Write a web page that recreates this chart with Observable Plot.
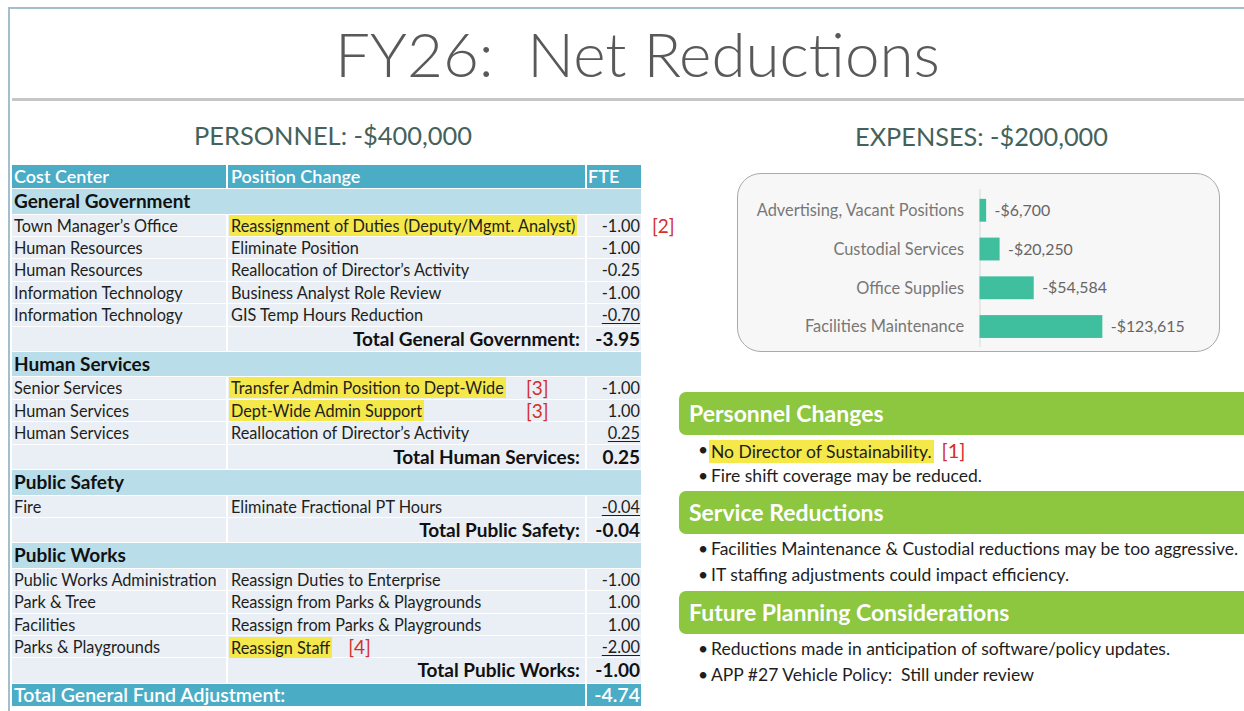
<!DOCTYPE html>
<html>
<head>
<meta charset="utf-8">
<script src="https://cdn.jsdelivr.net/npm/d3@7"></script>
<script src="https://cdn.jsdelivr.net/npm/@observablehq/plot@0.6"></script>
<style>
html,body{margin:0;padding:0;background:#fff;}
body{width:1244px;height:711px;overflow:hidden;position:relative;font-family:Lato,"Open Sans",sans-serif;color:#1e1e1e;}
.a{position:absolute;white-space:pre;}
</style>
</head>
<body>
<script>
// ---------------- Data ----------------
const slideTitle = "FY26:  Net Reductions";
const personnelHeading = "PERSONNEL: -$400,000";
const expensesHeading = "EXPENSES: -$200,000";
const tableColumns = ["Cost Center", "Position Change", "FTE"];

const groupNames = ["General Government", "Human Services", "Public Safety", "Public Works"];
const groupTotals = [-3.95, 0.25, -0.04, -1.00];

const rowGroup = [0, 0, 0, 0, 0, 1, 1, 1, 2, 3, 3, 3, 3];
const rowCostCenter = ["Town Manager\u2019s Office", "Human Resources", "Human Resources", "Information Technology", "Information Technology",
  "Senior Services", "Human Services", "Human Services", "Fire",
  "Public Works Administration", "Park & Tree", "Facilities", "Parks & Playgrounds"];
const rowPositionChange = ["Reassignment of Duties (Deputy/Mgmt. Analyst)", "Eliminate Position", "Reallocation of Director\u2019s Activity", "Business Analyst Role Review", "GIS Temp Hours Reduction",
  "Transfer Admin Position to Dept-Wide", "Dept-Wide Admin Support", "Reallocation of Director\u2019s Activity", "Eliminate Fractional PT Hours",
  "Reassign Duties to Enterprise", "Reassign from Parks & Playgrounds", "Reassign from Parks & Playgrounds", "Reassign Staff"];
const rowFTE = [-1.00, -1.00, -0.25, -1.00, -0.70, -1.00, 1.00, 0.25, -0.04, -1.00, 1.00, 1.00, -2.00];
const rowHighlighted = [true, false, false, false, false, true, true, false, false, false, false, false, true];
const rowFootnote = ["[2]", "", "", "", "", "[3]", "[3]", "", "", "", "", "", "[4]"];
const grandTotalLabel = "Total General Fund Adjustment:";
const grandTotal = -4.74;

const expenseCategories = ["Advertising, Vacant Positions", "Custodial Services", "Office Supplies", "Facilities Maintenance"];
const expenseAmounts = [-6700, -20250, -54584, -123615];

const noteSections = ["Personnel Changes", "Service Reductions", "Future Planning Considerations"];
const noteBullets = [
  ["No Director of Sustainability.", "Fire shift coverage may be reduced."],
  ["Facilities Maintenance & Custodial reductions may be too aggressive.", "IT staffing adjustments could impact efficiency."],
  ["Reductions made in anticipation of software/policy updates.", "APP #27 Vehicle Policy:  Still under review"]
];
const noteHighlighted = [[true, false], [false, false], [false, false]];
const noteFootnote = [["[1]", ""], ["", ""], ["", ""]];

// ---------------- Layout & style ----------------
const C = {frame: "#a3bfcb", rule: "#c6c6c6", title: "#595959", heading: "#44625a",
  header: "#4bacc6", group: "#b9dde9", data: "#e9eff4", hl: "#f5e84b", red: "#d3302c",
  green: "#8dc63f", bar: "#40bf9e", text: "#1e1e1e"};
const root = document.body;
const unitless = ["fontWeight", "opacity", "zIndex"];
function div(style, text) {
  const d = document.createElement("div");
  d.className = "a";
  for (const k in style) d.style[k] = typeof style[k] === "number" && !unitless.includes(k) ? style[k] + "px" : style[k];
  if (text != null) d.textContent = text;
  root.appendChild(d);
  return d;
}
// text placed by baseline (Lato metrics, line-height 1)
function textAt(text, x, baseline, size, opts = {}) {
  const d = div(Object.assign({left: x, top: baseline - 0.887 * size, fontSize: size, lineHeight: "1"}, opts.style || {}), text);
  if (opts.fitW) {
    const w = d.getBoundingClientRect().width;
    const s = size * opts.fitW / w;
    d.style.fontSize = s + "px";
    d.style.top = (baseline - 0.887 * s) + "px";
  }
  if (opts.anchor === "middle") d.style.transform = "translateX(-50%)";
  return d;
}

// slide frame
div({left: 8, top: 7, width: 1240, height: 2, background: C.frame});
div({left: 8, top: 7, width: 2, height: 710, background: C.frame});
div({left: 12, top: 98, width: 1240, height: 3, background: C.rule});

textAt(slideTitle, 637.5, 77, 70, {anchor: "middle", fitW: 605, style: {fontWeight: 300, color: C.title}});
textAt(personnelHeading, 333, 146, 25, {anchor: "middle", fitW: 278, style: {color: C.heading}});
textAt(expensesHeading, 981.5, 146, 25, {anchor: "middle", fitW: 253, style: {color: C.heading}});

// ---------------- Table ----------------
const T = {top: 165, cols: [[12, 214], [228, 357], [587, 54]], tx: [14, 231, 588], right: 640, totalRight: 580,
  h: {header: 24, group: 25.5, data: 22.45, total: 25.2, grand: 23}, fnX: {"[2]": 652, "[3]": 526},
  fs: {header: 18, group: 19, data: 16.3, total: 19, grand: 19.5, fn: 19}};
let y = T.top;
function cells(h, bg, spans) { spans.forEach(([x, w]) => div({left: x, top: y, width: w, height: h - 1, background: bg})); }
function cellText(text, x, h, size, style = {}, width) {
  const s = Object.assign({left: x, top: y, height: h - 1, lineHeight: (h - 1) + "px", fontSize: size}, style);
  if (width != null) { s.width = width; s.textAlign = "right"; }
  return div(s, text);
}
const fmtFTE = v => v.toFixed(2);

// header
cells(T.h.header, C.header, T.cols);
tableColumns.forEach((c, i) => cellText(c, T.tx[i], T.h.header, T.fs.header, {color: "#fff", fontWeight: 600}));
y += T.h.header;

groupNames.forEach((g, gi) => {
  cells(T.h.group, C.group, [[12, 629]]);
  cellText(g, 14, T.h.group, T.fs.group, {fontWeight: 700, color: "#111"});
  y += T.h.group;
  const idx = rowGroup.map((r, i) => r === gi ? i : -1).filter(i => i >= 0);
  idx.forEach((i, k) => {
    const h = T.h.data;
    cells(h, C.data, T.cols);
    cellText(rowCostCenter[i], T.tx[0], h, T.fs.data);
    const pc = cellText("", T.tx[1], h, T.fs.data);
    const span = document.createElement("span");
    span.textContent = rowPositionChange[i];
    if (rowHighlighted[i]) { span.style.background = C.hl; span.style.padding = "1px 2px"; span.style.marginLeft = "-2px"; }
    pc.appendChild(span);
    if (rowFootnote[i]) {
      if (T.fnX[rowFootnote[i]] != null) {
        cellText(rowFootnote[i], T.fnX[rowFootnote[i]], h, T.fs.fn, {color: C.red});
      } else {
        const fn = document.createElement("span");
        fn.textContent = rowFootnote[i];
        fn.style.color = C.red; fn.style.fontSize = T.fs.fn + "px"; fn.style.marginLeft = "16px";
        pc.appendChild(fn);
      }
    }
    const v = cellText(fmtFTE(rowFTE[i]), 587, h, T.fs.data, {}, T.right - 587);
    if (k === idx.length - 1) { v.style.textDecoration = "underline"; v.style.textUnderlineOffset = "2px"; }
    y += h;
  });
  const h = T.h.total;
  cells(h, C.data, T.cols);
  cellText("Total " + g + ":", 228, h, T.fs.total, {fontWeight: 700, color: "#111"}, T.totalRight - 228);
  cellText(fmtFTE(groupTotals[gi]), 587, h, T.fs.total, {fontWeight: 700, color: "#111"}, T.right - 587);
  y += h;
});
cells(T.h.grand, C.header, [[12, 573], [587, 54]]);
cellText(grandTotalLabel, 14, T.h.grand, T.fs.grand, {color: "#fff", fontWeight: 600});
cellText(fmtFTE(grandTotal), 587, T.h.grand, T.fs.grand, {color: "#fff", fontWeight: 600}, T.right - 587);

// ---------------- Expenses chart ----------------
const box = div({left: 737, top: 173, width: 483, height: 179, border: "1.5px solid #a9a9a9", borderRadius: "24px",
  background: "#f7f7f7", boxSizing: "border-box"});
const expenses = expenseCategories.map((c, i) => ({category: c, amount: expenseAmounts[i]}));
const fmtMoney = v => (v < 0 ? "-" : "") + "$" + d3.format(",")(Math.abs(v));
const chart = Plot.plot({
  width: 484, height: 179,
  marginLeft: 244, marginRight: 0, marginTop: 16, marginBottom: 4,
  style: {background: "transparent", fontFamily: "Lato, 'Open Sans', sans-serif", fontSize: "16px", overflow: "visible"},
  x: {domain: [0, 240000], axis: null},
  y: {domain: expenseCategories, paddingInner: 0.42, paddingOuter: 0.2, label: null},
  marks: [
    Plot.ruleX([0], {stroke: "#d9d9d9", strokeWidth: 1}),
    Plot.barX(expenses, {x: d => -d.amount, y: "category", fill: C.bar}),
    Plot.text(expenses, {x: d => -d.amount, y: "category", text: d => fmtMoney(d.amount), dx: 8, textAnchor: "start", fill: "#666", fontSize: 16}),
    Plot.axisY({tickSize: 0, tickPadding: 16, fontSize: 16.5, fill: "#777", label: null})
  ]
});
chart.style.position = "absolute";
chart.style.left = "-1.5px";
chart.style.top = "-1.5px";
box.appendChild(chart);

// ---------------- Notes ----------------
const N = {x: 679, boxW: 620, boxH: 43, tops: [392, 491, 591], bulletX: 698, textX: 711, lineDy: [58, 84],
  fs: {head: 23, text: 17.5, fn: 20}};
noteSections.forEach((s, si) => {
  const top = N.tops[si];
  div({left: N.x, top: top, width: N.boxW, height: N.boxH, background: C.green, borderRadius: "7px"});
  div({left: N.x + 10, top: top, height: N.boxH, lineHeight: N.boxH + "px", fontSize: N.fs.head, fontWeight: 700, color: "#fff"}, s);
  noteBullets[si].forEach((b, bi) => {
    const cy = top + N.lineDy[bi];
    div({left: N.bulletX, top: cy - 12, height: 24, lineHeight: "24px", fontSize: N.fs.text, color: C.text}, "\u2022");
    const t = div({left: N.textX, top: cy - 12, height: 24, lineHeight: "24px", fontSize: N.fs.text, color: C.text});
    const sp = document.createElement("span");
    sp.textContent = b;
    if (noteHighlighted[si][bi]) { sp.style.background = C.hl; sp.style.padding = "1px 2px"; sp.style.marginLeft = "-2px"; }
    t.appendChild(sp);
    if (noteFootnote[si][bi]) {
      const fn = document.createElement("span");
      fn.textContent = noteFootnote[si][bi];
      fn.style.color = C.red; fn.style.fontSize = N.fs.fn + "px"; fn.style.marginLeft = "8px";
      t.appendChild(fn);
    }
  });
});
</script>
</body>
</html>
